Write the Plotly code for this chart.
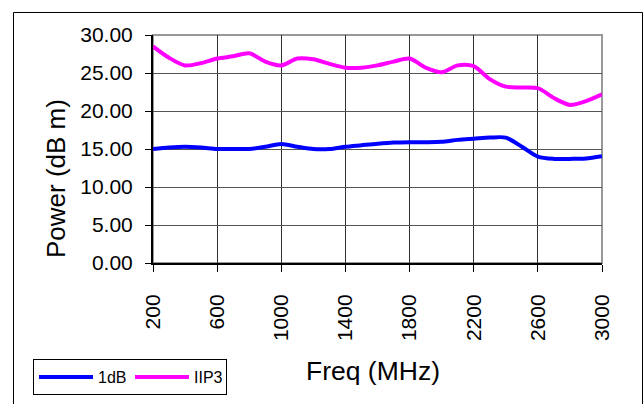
import plotly.graph_objects as go

freq = [200, 300, 400, 500, 600, 700, 800, 900, 1000, 1100, 1200, 1300, 1400, 1500,
        1600, 1700, 1800, 1900, 2000, 2100, 2200, 2300, 2400, 2500, 2600, 2700, 2800,
        2900, 3000]
one_db = [15.0, 15.2, 15.3, 15.2, 15.0, 15.0, 15.0, 15.3, 15.65, 15.3, 15.0, 15.0,
          15.3, 15.5, 15.7, 15.85, 15.9, 15.9, 15.95, 16.2, 16.35, 16.5, 16.5, 15.3,
          14.0, 13.7, 13.7, 13.75, 14.05]
iip3 = [28.5, 27.0, 26.0, 26.3, 26.9, 27.2, 27.6, 26.5, 26.0, 26.9, 26.8, 26.2,
        25.7, 25.7, 26.0, 26.5, 26.9, 25.7, 25.1, 26.0, 25.9, 24.2, 23.2, 23.1,
        23.0, 21.7, 20.8, 21.3, 22.2]
x_ticks = [200, 600, 1000, 1400, 1800, 2200, 2600, 3000]
y_ticks = [0, 5, 10, 15, 20, 25, 30]

# body margin is removed by the post script, so figure pixels == window pixels
W, H = 644, 404
L, T = 153, 35
pw, ph = 449, 228
R, B = W - L - pw, H - T - ph


def px(x):
    return (x - L) / pw


def py(y):
    return (H - B - y) / ph


FONT = "Liberation Sans, Arial, sans-serif"

fig = go.Figure()
fig.add_trace(go.Scatter(x=freq, y=one_db, name="1dB", mode="lines",
                         line=dict(color="#0000FF", width=4, shape="spline", smoothing=0.8)))
fig.add_trace(go.Scatter(x=freq, y=iip3, name="IIP3", mode="lines",
                         line=dict(color="#FF00FF", width=4, shape="spline", smoothing=0.8)))

fig.update_layout(
    width=W, height=H,
    margin=dict(l=L, r=R, t=T, b=B, pad=0, autoexpand=False),
    paper_bgcolor="white", plot_bgcolor="white",
    font=dict(family=FONT, color="black"),
    showlegend=True,
    legend=dict(orientation="h", x=px(33), y=py(359), xanchor="left", yanchor="top",
                bordercolor="black", borderwidth=1, bgcolor="white",
                font=dict(size=16, family=FONT), itemwidth=54, entrywidth=27,
                tracegroupgap=0),
    xaxis=dict(range=[200, 3000], tickvals=x_ticks, ticktext=[str(v) for v in x_ticks],
               tickangle=-90, tickfont=dict(size=21, family=FONT),
               showgrid=True, gridcolor="#303030", gridwidth=1,
               showline=True, linecolor="black", linewidth=2,
               ticks="outside", ticklen=7, tickcolor="black", tickwidth=1,
               ticklabelstandoff=14, zeroline=False, fixedrange=True),
    yaxis=dict(range=[0, 30], tickvals=y_ticks, ticktext=[f"{v:.2f}" for v in y_ticks],
               tickfont=dict(size=21, family=FONT),
               showgrid=True, gridcolor="#555555", gridwidth=1,
               showline=True, linecolor="black", linewidth=2,
               ticks="outside", ticklen=6, tickcolor="black", tickwidth=1,
               ticklabelstandoff=8, zeroline=False, fixedrange=True),
    shapes=[
        dict(type="rect", xref="paper", yref="paper", x0=0, x1=1, y0=0, y1=1,
             line=dict(color="#999999", width=2), layer="below"),
        dict(type="rect", xref="paper", yref="paper", x0=px(13.5), x1=px(642.5),
             y0=py(410), y1=py(12.5), line=dict(color="black", width=1), layer="below"),
    ],
    annotations=[
        dict(text="Power (dB m)", xref="paper", yref="paper", x=px(56), y=py(179),
             xanchor="center", yanchor="middle", textangle=-90, showarrow=False,
             font=dict(size=26, family=FONT)),
        dict(text="Freq (MHz)", xref="paper", yref="paper", x=px(373), y=py(371),
             xanchor="center", yanchor="middle", showarrow=False,
             font=dict(size=26.5, family=FONT)),
    ],
)

fig.write_html("out.html",
               config={"displayModeBar": False, "staticPlot": True},
               post_script="document.body.style.margin='0';"
                           "document.body.style.overflow='hidden';")
